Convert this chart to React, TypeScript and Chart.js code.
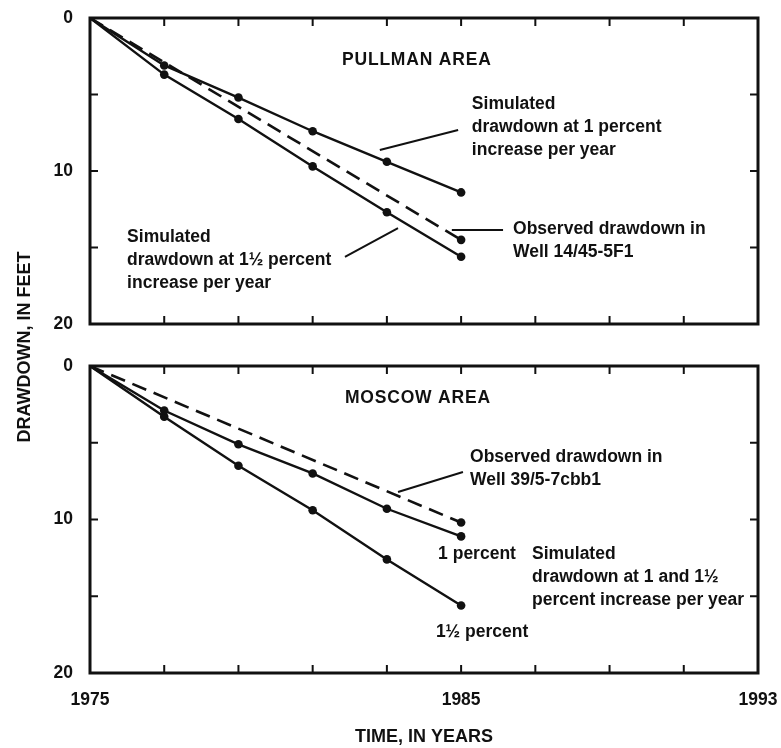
import React, { useEffect, useRef } from 'react';
import { Chart, registerables } from 'chart.js';

Chart.register(...registerables);

// ---- data ----
const YEARS = [1975, 1977, 1979, 1981, 1983, 1985];
const PULLMAN_1PCT = [0, 3.1, 5.2, 7.4, 9.4, 11.4];
const PULLMAN_15PCT = [0, 3.7, 6.6, 9.7, 12.7, 15.6];
const OBS_YEARS = [1975, 1985];
const PULLMAN_OBS = [0, 14.5];
const MOSCOW_1PCT = [0, 2.9, 5.1, 7.0, 9.3, 11.1];
const MOSCOW_15PCT = [0, 3.3, 6.5, 9.4, 12.6, 15.6];
const MOSCOW_OBS = [0, 10.2];

const X_MIN = 1975;
const X_MAX = 1993;
const X_STEP = 2;
const X_LABELS = [1975, 1985, 1993];
const Y_MIN = 0;
const Y_MAX = 20;
const Y_STEP = 5;
const Y_LABELS = [0, 10, 20];

// annotations in data coordinates (year, drawdown)
const PULLMAN_NOTES = [
  { lines: ['PULLMAN AREA'], x: 1981.79, y: 2.75, title: true },
  { lines: ['Simulated', 'drawdown at 1 percent', 'increase per year'], x: 1985.29, y: 5.62 },
  { lines: ['Observed drawdown in', 'Well 14/45-5F1'], x: 1986.4, y: 13.79 },
  { lines: ['Simulated', 'drawdown at 1½ percent', 'increase per year'], x: 1976.0, y: 14.31 },
];
const PULLMAN_LEADERS = [
  [[1982.81, 8.63], [1984.92, 7.32]],
  [[1984.75, 13.86], [1986.13, 13.86]],
  [[1981.87, 15.62], [1983.3, 13.73]],
];
const MOSCOW_NOTES = [
  { lines: ['MOSCOW AREA'], x: 1981.87, y: 2.08, title: true },
  { lines: ['Observed drawdown in', 'Well 39/5-7cbb1'], x: 1985.24, y: 5.93 },
  { lines: ['1 percent'], x: 1984.38, y: 12.25 },
  { lines: ['1½ percent'], x: 1984.32, y: 17.33 },
  { lines: ['Simulated', 'drawdown at 1 and 1½', 'percent increase per year'], x: 1986.91, y: 12.25 },
];
const MOSCOW_LEADERS = [[[1983.3, 8.21], [1985.05, 6.91]]];

// ---- styles ----
const INK = '#111';
const FAMILY = '"Liberation Sans", Arial, Helvetica, sans-serif';
const TICK_FONT = { family: FAMILY, size: 17.5, weight: 'bold' as const };
const TITLE_FONT = { family: FAMILY, size: 18, weight: 'bold' as const };
const NOTE_FONT = `bold 17.5px ${FAMILY}`;
const TICK_LEN = 8;
const LINE_GAP = 23;

function makeDecor(notes: any[], leaders: number[][][]) {
  return {
    id: 'decor',
    afterDatasetsDraw(chart: any) {
      const { ctx, chartArea: a } = chart;
      const xs = chart.scales.x;
      const ys = chart.scales.y;
      ctx.save();
      ctx.strokeStyle = INK;
      ctx.fillStyle = INK;
      // inward tick marks, from the library's ticks
      ctx.lineWidth = 2;
      ctx.beginPath();
      for (const t of xs.ticks.slice(1, -1)) {
        const px = xs.getPixelForValue(t.value);
        ctx.moveTo(px, a.top);
        ctx.lineTo(px, a.top + TICK_LEN);
        ctx.moveTo(px, a.bottom);
        ctx.lineTo(px, a.bottom - TICK_LEN);
      }
      for (const t of ys.ticks.slice(1, -1)) {
        const py = ys.getPixelForValue(t.value);
        ctx.moveTo(a.left, py);
        ctx.lineTo(a.left + TICK_LEN, py);
        ctx.moveTo(a.right, py);
        ctx.lineTo(a.right - TICK_LEN, py);
      }
      ctx.stroke();
      // frame
      ctx.lineWidth = 3;
      ctx.strokeRect(a.left, a.top, a.right - a.left, a.bottom - a.top);
      // leader lines
      ctx.lineWidth = 2;
      ctx.beginPath();
      for (const [[x1, y1], [x2, y2]] of leaders) {
        ctx.moveTo(xs.getPixelForValue(x1), ys.getPixelForValue(y1));
        ctx.lineTo(xs.getPixelForValue(x2), ys.getPixelForValue(y2));
      }
      ctx.stroke();
      // notes
      ctx.font = NOTE_FONT;
      ctx.textAlign = 'left';
      ctx.textBaseline = 'middle';
      for (const n of notes) {
        const px = xs.getPixelForValue(n.x);
        const py = ys.getPixelForValue(n.y);
        (ctx as any).letterSpacing = n.title ? '0.8px' : '0px';
        n.lines.forEach((line: string, i: number) => {
          ctx.fillText(line, px, py + i * LINE_GAP);
        });
      }
      (ctx as any).letterSpacing = '0px';
      ctx.restore();
    },
  };
}

function ds(label: string, xs: number[], ys: number[], dashed: boolean) {
  return {
    label,
    data: xs.map((x, i) => ({ x, y: ys[i] })),
    borderColor: INK,
    borderWidth: dashed ? 2.6 : 2.4,
    borderDash: dashed ? [15, 8] : [],
    pointBackgroundColor: INK,
    pointBorderWidth: 0,
    pointRadius: (c: any) => (c.dataIndex === 0 ? 0 : 4.3),
    tension: 0,
    fill: false,
  };
}

function makeConfig(p: {
  s1: number[];
  s15: number[];
  obs: number[];
  notes: any[];
  leaders: number[][][];
  showX: boolean;
  padTop: number;
  xHeight: number;
}): any {
  return {
    type: 'line',
    data: {
      datasets: [
        ds('Simulated, 1 percent', YEARS, p.s1, false),
        ds('Simulated, 1½ percent', YEARS, p.s15, false),
        ds('Observed', OBS_YEARS, p.obs, true),
      ],
    },
    options: {
      responsive: false,
      animation: false,
      events: [],
      layout: { padding: { left: 0, right: 23, top: p.padTop, bottom: 0 } },
      plugins: { legend: { display: false }, tooltip: { enabled: false } },
      scales: {
        x: {
          type: 'linear',
          min: X_MIN,
          max: X_MAX,
          grid: { display: false },
          border: { display: false },
          ticks: {
            display: p.showX,
            stepSize: X_STEP,
            autoSkip: false,
            maxRotation: 0,
            padding: 9,
            color: INK,
            font: TICK_FONT,
            callback: (v: number) => (X_LABELS.includes(v) ? String(v) : ''),
          },
          title: p.showX
            ? { display: true, text: 'TIME, IN YEARS', color: INK, font: TITLE_FONT, padding: 0 }
            : { display: false },
          afterFit: (s: any) => {
            s.height = p.xHeight;
            s.paddingLeft = 0;
            s.paddingRight = 0;
          },
        },
        y: {
          type: 'linear',
          reverse: true,
          min: Y_MIN,
          max: Y_MAX,
          grid: { display: false },
          border: { display: false },
          ticks: {
            stepSize: Y_STEP,
            padding: 9,
            color: INK,
            font: TICK_FONT,
            callback: (v: number) => (Y_LABELS.includes(v) ? String(v) : ''),
          },
          afterFit: (s: any) => {
            s.width = 90;
            s.paddingTop = 0;
            s.paddingBottom = 0;
          },
        },
      },
    },
    plugins: [makeDecor(p.notes, p.leaders)],
  };
}

export default function App() {
  const topRef = useRef<HTMLCanvasElement>(null);
  const botRef = useRef<HTMLCanvasElement>(null);

  useEffect(() => {
    const top = new Chart(
      topRef.current as HTMLCanvasElement,
      makeConfig({
        s1: PULLMAN_1PCT,
        s15: PULLMAN_15PCT,
        obs: PULLMAN_OBS,
        notes: PULLMAN_NOTES,
        leaders: PULLMAN_LEADERS,
        showX: false,
        padTop: 18,
        xHeight: 21,
      })
    );
    const bot = new Chart(
      botRef.current as HTMLCanvasElement,
      makeConfig({
        s1: MOSCOW_1PCT,
        s15: MOSCOW_15PCT,
        obs: MOSCOW_OBS,
        notes: MOSCOW_NOTES,
        leaders: MOSCOW_LEADERS,
        showX: true,
        padTop: 21,
        xHeight: 75,
      })
    );
    return () => {
      top.destroy();
      bot.destroy();
    };
  }, []);

  return (
    <div
      style={{
        position: 'absolute',
        left: 0,
        top: 0,
        width: 781,
        height: 748,
        background: '#fff',
        overflow: 'hidden',
      }}
    >
      <canvas
        ref={topRef}
        width={781}
        height={345}
        style={{ position: 'absolute', left: 0, top: 0, width: 781, height: 345 }}
      />
      <canvas
        ref={botRef}
        width={781}
        height={403}
        style={{ position: 'absolute', left: 0, top: 345, width: 781, height: 403 }}
      />
      <div
        style={{
          position: 'absolute',
          left: 26 - 150,
          top: 347 - 12,
          width: 300,
          height: 24,
          lineHeight: '24px',
          textAlign: 'center',
          transform: 'rotate(-90deg)',
          font: `bold 18px ${FAMILY}`,
          color: INK,
          whiteSpace: 'nowrap',
        }}
      >
        DRAWDOWN, IN FEET
      </div>
    </div>
  );
}
